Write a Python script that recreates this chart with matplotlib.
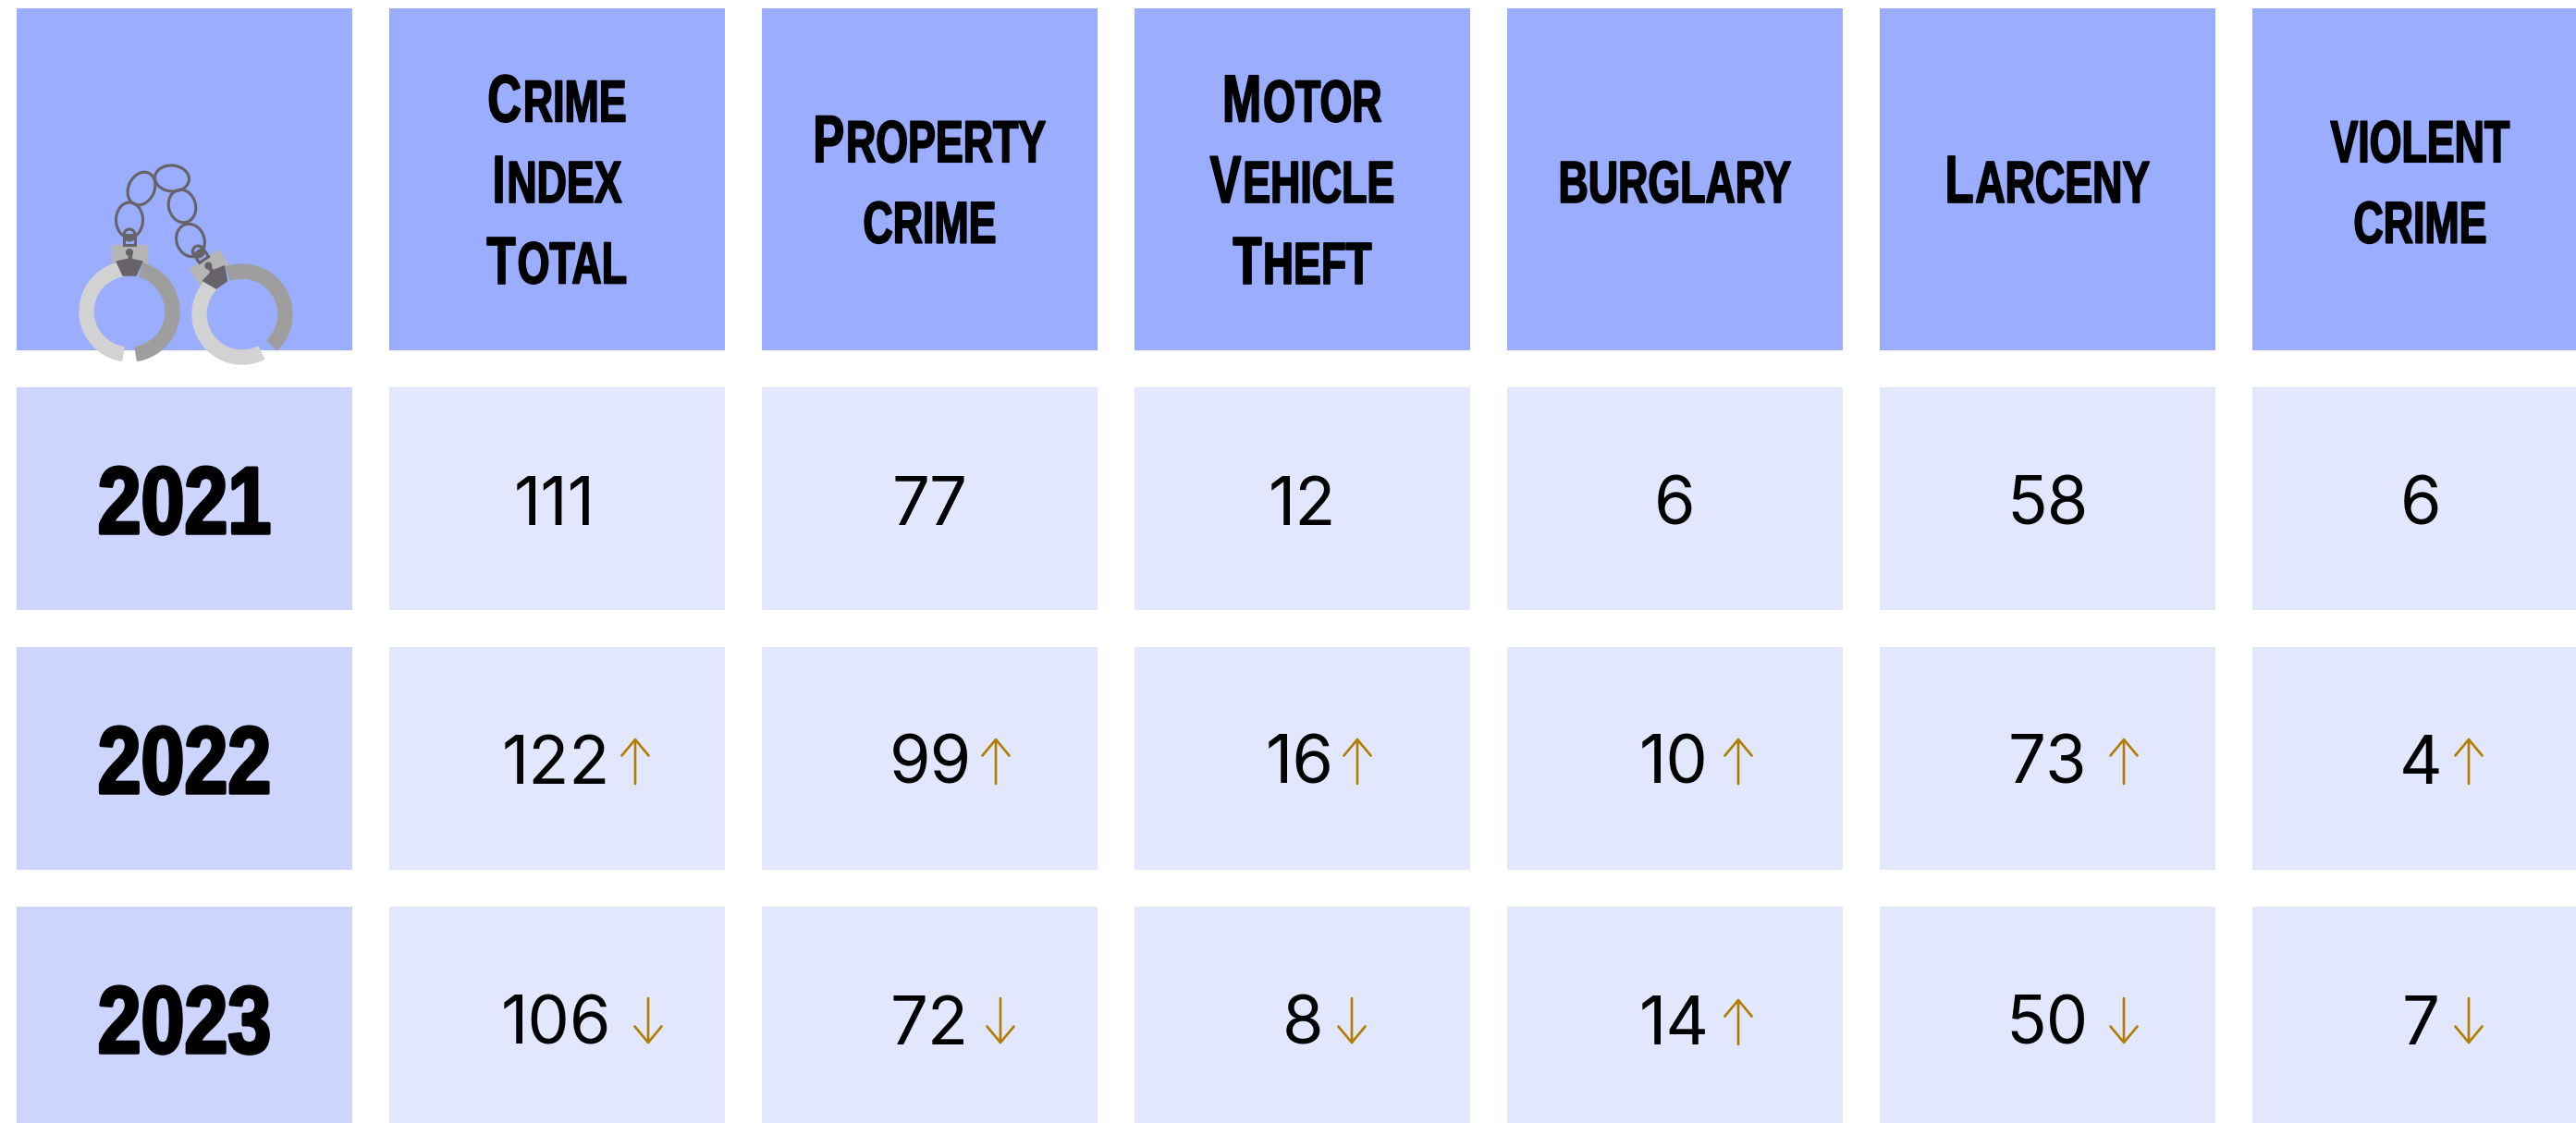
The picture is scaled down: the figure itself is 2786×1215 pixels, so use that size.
import itertools
import matplotlib
matplotlib.use("Agg")
import matplotlib.pyplot as plt
import matplotlib.patheffects as pe
from matplotlib.patches import Rectangle, Wedge, Ellipse, Circle, Polygon
from matplotlib.transforms import Affine2D

# data
headers = ["Crime\nIndex\nTotal", "Property\ncrime", "Motor\nVehicle\nTheft", "burglary", "Larceny", "violent\ncrime"]
years = ["2021", "2022", "2023"]
values_2021 = [111, 77, 12, 6, 58, 6]
values_2022 = [122, 99, 16, 10, 73, 4]
values_2023 = [106, 72, 8, 14, 50, 7]
arrows_2021 = [None, None, None, None, None, None]
arrows_2022 = ["up", "up", "up", "up", "up", "up"]
arrows_2023 = ["down", "down", "down", "up", "down", "down"]

# layout, in pixels of the 2786x1215 picture
W, H = 2786, 1215
col_left = [18, 421, 824, 1227, 1630, 2033, 2436]
col_w = 363
header_top, header_h = 9, 370
row_top = [419, 700, 981]
row_h = 241
baselines = [568, 848, 1130]
year_base = [577, 858, 1139]
num_x = [[600, 1006, 1408, 1811, 2214, 2618],
         [601, 1006, 1406, 1810, 2214, 2618],
         [601, 1005, 1409, 1811, 2214, 2618]]
arrow_x = [[None] * 6,
           [687, 1077, 1468, 1880, 2297, 2670],
           [701, 1082, 1462, 1880, 2297, 2670]]

HEAD_BLUE = "#9AADFF"
YEAR_BLUE = "#CDD5FF"
CELL_BLUE = "#E2E7FD"
GOLD = "#B07D00"
header_font = "Liberation Sans"
num_font = "Inter"


class Tall(pe.AbstractPathEffect):
    # no condensed font here, so take a smaller size and stretch it up from the baseline
    def __init__(self, sy, lw):
        super().__init__()
        self.sy = sy
        self.lw = lw

    def draw_path(self, renderer, gc, tpath, affine, rgbFace=None):
        m = affine.get_matrix().copy()
        m[1, 1] *= self.sy
        gc0 = renderer.new_gc()
        gc0.copy_properties(gc)
        gc0.set_linewidth(self.lw)
        gc0.set_foreground("black")
        renderer.draw_path(gc0, tpath, Affine2D(m), rgbFace)
        gc0.restore()


fig = plt.figure(figsize=(W / 100, H / 100), dpi=100, facecolor="white")
ax = fig.add_axes([0, 0, 1, 1])
ax.set_xlim(0, W)
ax.set_ylim(H, 0)
ax.axis("off")
renderer = fig.canvas.get_renderer()


def tall_line(pieces, cx, base, sy, lw, gap):
    # pieces are (string, fontsize), laid out one after the other around cx
    items = []
    for s, size in pieces:
        t = ax.text(0, base, s, fontsize=size, family=header_font, weight="bold", va="baseline", ha="left",
                    path_effects=[Tall(sy, lw)], zorder=5)
        items.append((t, t.get_window_extent(renderer).width))
    total = sum(w for t, w in items) + gap * (len(items) - 1)
    x = cx - total / 2
    for t, w in items:
        t.set_x(x)
        x += w + gap


def caps_line(line, cx, base, big=36.4, small=32.2):
    # small caps by hand: real capitals stay big, the rest gets smaller
    pieces = []
    for is_up, group in itertools.groupby(line, key=str.isupper):
        pieces.append(("".join(group).upper(), big if is_up else small))
    tall_line(pieces, cx, base, 1 / 0.70, 1.2, 2)


def cuff(cx, cy, rot):
    tr = Affine2D().rotate_deg(rot).translate(cx, cy) + ax.transData
    parts = [
        Rectangle((-18.7, -72), 37.4, 22, color="#B5B5B5"),
        Wedge((0, 0), 54, 99, 262, width=15, color="#D2D2D2"),
        Wedge((0, 0), 54, -74, 81, width=15, color="#9E9E9E"),
        Polygon([(-14, -54), (0, -57), (14, -54), (7, -39), (-7, -39)], color="#676267"),
        Rectangle((-1.5, -64), 3, 10, color="#676267"),
        Circle((0, -64), 3.4, color="#676267"),
        Rectangle((-6, -83), 12, 11, fill=False, ec="#676267", lw=2.2),
        Circle((0, -83), 6, fill=False, ec="#676267", lw=2.2),
    ]
    for p in parts:
        p.set_transform(tr)
        p.set_zorder(4)
        ax.add_patch(p)


for j, left in enumerate(col_left):
    ax.add_patch(Rectangle((left, header_top), col_w, header_h, color=HEAD_BLUE, lw=0))
    for i, top in enumerate(row_top):
        ax.add_patch(Rectangle((left, top), col_w, row_h, color=YEAR_BLUE if j == 0 else CELL_BLUE, lw=0))

# header labels
for j, label in enumerate(headers):
    lines = label.split("\n")
    first = 219 - (len(lines) - 1) * 43.75
    for k, line in enumerate(lines):
        caps_line(line, col_left[j + 1] + col_w / 2, first + k * 87.5)

# years
for i, year in enumerate(years):
    tall_line([(year, 60.7)], col_left[0] + col_w / 2, year_base[i], 1 / 0.82, 2.5, 0)

# values and arrows
for i, (vals, arrs) in enumerate(zip([values_2021, values_2022, values_2023], [arrows_2021, arrows_2022, arrows_2023])):
    for j, v in enumerate(vals):
        ax.text(num_x[i][j], baselines[i], str(v), fontsize=52, family=num_font, ha="center", va="baseline", color="black")
        if arrs[j] is None:
            continue
        low, high = baselines[i], baselines[i] - 50
        start, end = (low, high) if arrs[j] == "up" else (high, low)
        ax.annotate("", xy=(arrow_x[i][j], end), xytext=(arrow_x[i][j], start),
                    arrowprops=dict(arrowstyle="->,head_length=0.9,head_width=0.75", color=GOLD, lw=1.9,
                                    shrinkA=0, shrinkB=0, mutation_scale=14))

# handcuffs icon
cuff(140, 337, 0)
cuff(262, 340, -35)
links = [(140, 238, 29, 38, 0), (153, 204, 28, 37, 25), (186, 193, 37, 28, 5), (197, 223, 29, 36, -15), (206, 260, 30, 36, -20)]
for x, y, w, h, ang in links:
    ax.add_patch(Ellipse((x, y), w, h, angle=ang, fill=False, ec="#676267", lw=2.2, zorder=4))

fig.savefig("out.png", dpi=100, facecolor="white")
